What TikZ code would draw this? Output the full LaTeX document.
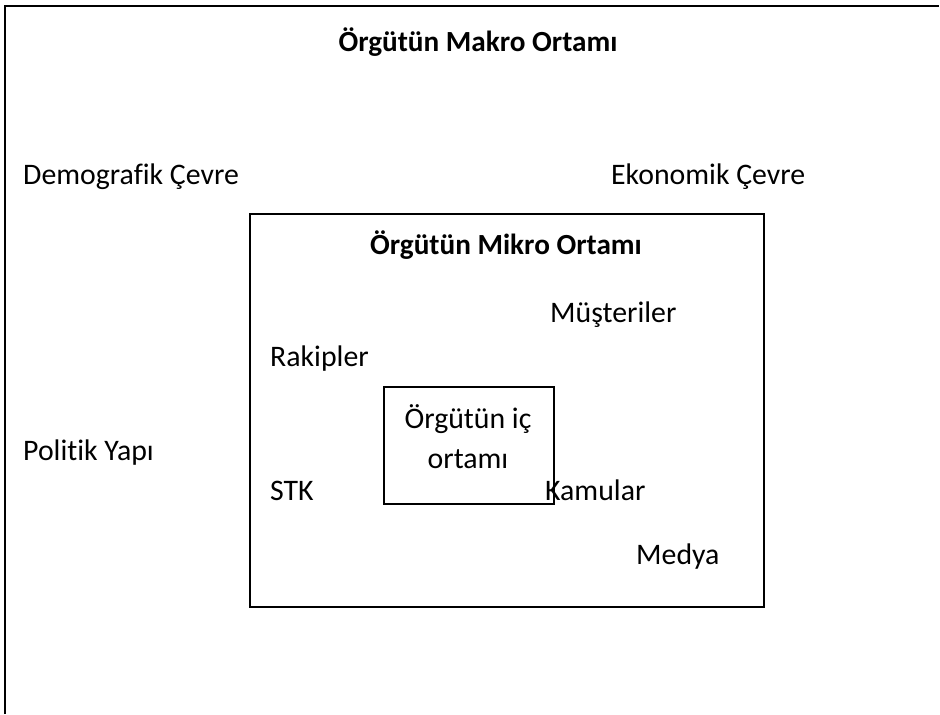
\documentclass[tikz,border=0pt]{standalone}
\usepackage{fontspec}
\setmainfont{Carlito}[Ligatures=NoCommon]
\usetikzlibrary{positioning}

\begin{document}
\begin{tikzpicture}[x=1pt,y=-1pt]
\tikzstyle{every node}+=[inner sep=0pt, font=\fontsize{29.8}{36}\selectfont]
\tikzstyle{lbl}=[anchor=base west]
\tikzstyle{ttl}=[anchor=base, font=\fontsize{29.2}{36}\selectfont\bfseries]
\tikzstyle{box}=[draw, line width=2pt, anchor=north west]
\useasboundingbox (0,0) rectangle (940,715);
% outer frame, open at right and bottom
\draw [line width=2pt] (5,714) -- (5,6) -- (939,6);
\node (makro) [ttl] at (478,51) {Örgütün Makro Ortamı};
\node (demo) [lbl] at (23,184) {Demografik Çevre};
\node (eko) [lbl] at (611,184) {Ekonomik Çevre};
\node (pol) [lbl] at (23,460) {Politik Yapı};
% micro environment
\node (mikro) [box, minimum width=514, minimum height=393] at (249,213) {};
\node (mikrottl) [ttl] at (506,254) {Örgütün Mikro Ortamı};
\node (must) [lbl] at (550,322) {Müşteriler};
\node (rak) [lbl] at (270,366) {Rakipler};
\node (stk) [lbl] at (270,500) {STK};
\node (kam) [lbl] at (545,500) {Kamular};
\node (med) [lbl] at (636,564) {Medya};
% internal environment
\node (ic) [box, minimum width=170, minimum height=117] at (383,386) {};
\node (ic1) [anchor=base] at (468,428) {Örgütün iç};
\node (ic2) [anchor=base] at (468,468) {ortamı};
\end{tikzpicture}
\end{document}
